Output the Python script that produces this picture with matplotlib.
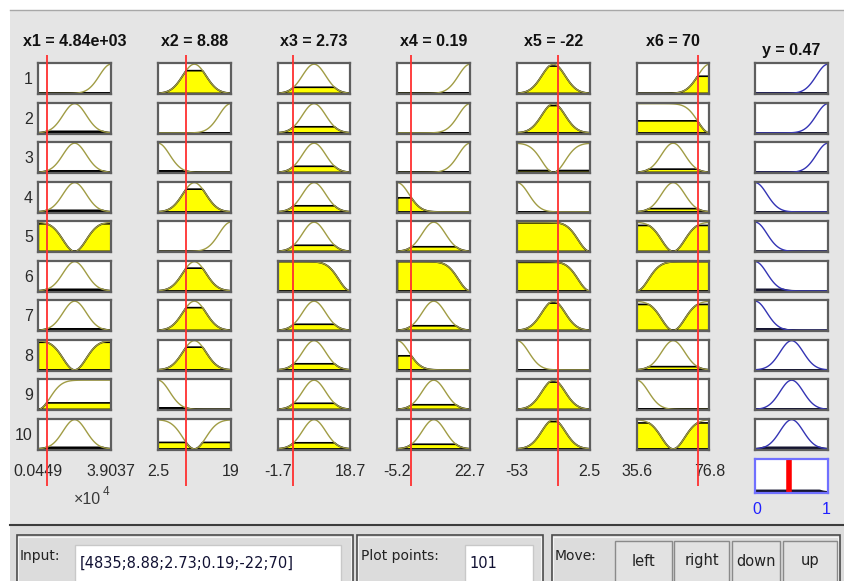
import matplotlib
matplotlib.use("Agg")
import matplotlib.pyplot as plt
import numpy as np
from matplotlib.patches import Rectangle

plt.rcParams["font.family"] = ["Liberation Sans", "DejaVu Sans"]

W, H = 845, 581

# inputs of the fuzzy system
in_titles = ["x1 = 4.84e+03", "x2 = 8.88", "x3 = 2.73", "x4 = 0.19", "x5 = -22", "x6 = 70"]
in_lo = [449, 2.5, -1.7, -5.2, -53, 35.6]
in_hi = [39037, 19, 18.7, 22.7, 2.5, 76.8]
in_values = [4835, 8.88, 2.73, 0.19, -22, 70]
lo_labels = ["0.0449", "2.5", "-1.7", "-5.2", "-53", "35.6"]
hi_labels = ["3.9037", "19", "18.7", "22.7", "2.5", "76.8"]

# membership function used by rules 1-10 for each input / output
x1_mfs = ["hi", "mid", "mid", "mid", "not_mid", "mid", "mid", "not_mid", "not_lo", "mid"]
x2_mfs = ["mid", "hi", "lo", "mid", "hi", "mid", "mid", "mid", "lo", "not_mid"]
x3_mfs = ["mid", "mid", "mid", "mid", "mid", "not_hi", "mid", "mid", "mid", "mid"]
x4_mfs = ["hi", "hi", "hi", "lo", "mid", "not_hi", "mid", "lo", "mid", "mid"]
x5_mfs = ["mid", "mid", "not_mid", "lo", "not_hi", "not_hi", "mid", "lo", "mid", "mid"]
x6_mfs = ["hi", "not_hi", "mid", "mid", "not_mid", "not_lo", "not_mid", "mid", "lo", "not_mid"]
y_mfs = ["hi", "hi", "hi", "lo", "lo", "lo", "lo", "mid", "mid", "mid"]
y_value = 0.47
y_title = "y = 0.47"
input_text = "[4835;8.88;2.73;0.19;-22;70]"
plot_points = 101

mf_sigma = 0.16
mf_centers = {"lo": 0.0, "mid": 0.5, "hi": 1.0}

olive = "#a09c44"
yellow = "#ffff00"
blue_line = "#3434b4"
red = "#ff3030"
ui_font = ["DejaVu Sans"]


def mf(name, u):
    neg = name.startswith("not_")
    c = mf_centers[name.replace("not_", "")]
    g = np.exp(-((u - c) ** 2) / (2 * mf_sigma ** 2))
    return 1 - g if neg else g


def rect(x0, y0, w, h):
    return [x0 / W, 1 - (y0 + h) / H, w / W, h / H]


def style_box(ax, edge="#5e5e5e"):
    ax.set_xticks([])
    ax.set_yticks([])
    ax.set_facecolor("white")
    for s in ax.spines.values():
        s.set_color(edge)
        s.set_linewidth(1.6)


fig = plt.figure(figsize=(W / 100, H / 100), dpi=100)
fig.patch.set_facecolor("white")

bg = fig.add_axes([0, 0, 1, 1])
bg.set_xlim(0, W)
bg.set_ylim(H, 0)
bg.axis("off")
bg.add_patch(Rectangle((10, 10), W - 10, 515, facecolor="#e5e5e5", edgecolor="none"))
bg.plot([10, W], [9.5, 9.5], color="#a8a8a8", lw=1.0)
bg.add_patch(Rectangle((10, 525), W - 10, 60, facecolor="#dcdcdc", edgecolor="none"))
bg.plot([10, W], [525, 525], color="#3c3c3c", lw=1.5)

# bottom control panels
for x0, x1 in [(16.7, 352.7), (356.7, 543), (551.7, 840)]:
    bg.add_patch(Rectangle((x0, 535), x1 - x0, 60, facecolor="#dcdcdc",
                           edgecolor="#4a4a4a", lw=1.2))
    bg.add_patch(Rectangle((x0 + 1.5, 536.5), x1 - x0 - 3, 60, facecolor="none",
                           edgecolor="#f4f4f4", lw=0.8))
bg.add_patch(Rectangle((75, 545), 266, 50, facecolor="white", edgecolor="#c8c8c8", lw=1))
bg.add_patch(Rectangle((465, 545), 68, 50, facecolor="white", edgecolor="#c8c8c8", lw=1))
bg.text(20, 556, "Input:", fontsize=10, va="center", ha="left", color="#222222", family=ui_font)
bg.text(80, 563, input_text, fontsize=10.5, va="center", ha="left", color="#111133", family=ui_font)
bg.text(361, 556, "Plot points:", fontsize=10, va="center", ha="left", color="#222222", family=ui_font)
bg.text(469, 563, str(plot_points), fontsize=10.5, va="center", ha="left", color="#111133", family=ui_font)
bg.text(555, 556, "Move:", fontsize=10, va="center", ha="left", color="#222222", family=ui_font)
for label, x0, x1 in [("left", 615, 671.7), ("right", 674, 729), ("down", 731.7, 780), ("up", 782.7, 836.7)]:
    bg.add_patch(Rectangle((x0, 541), x1 - x0, 50, facecolor="#e2e2e2",
                           edgecolor="#8a8a8a", lw=1))
    bg.text((x0 + x1) / 2, 561, label, fontsize=10.5, va="center", ha="center",
            color="#222222", family=ui_font)

box_w, box_h = 72.7, 30.7
row_pitch = 39.5
row_top0 = 63.3
col_left0 = 38.3
col_pitch = 119.7
y_left = 755.3
u = np.linspace(0, 1, plot_points)

in_mfs = [x1_mfs, x2_mfs, x3_mfs, x4_mfs, x5_mfs, x6_mfs]
n_rules = len(y_mfs)
firing = np.ones(n_rules)

for i in range(n_rules):
    bg.text(33, row_top0 + i * row_pitch + box_h / 2 + 1, str(i + 1), fontsize=11.5,
            ha="right", va="center", color="#2a2a2a")

for j, (mfs, lo, hi, val) in enumerate(zip(in_mfs, in_lo, in_hi, in_values)):
    xs = lo + u * (hi - lo)
    uv = (val - lo) / (hi - lo)
    left = col_left0 + j * col_pitch
    for i, name in enumerate(mfs):
        ax = fig.add_axes(rect(left, row_top0 + i * row_pitch, box_w, box_h))
        style_box(ax)
        mu = mf(name, u)
        deg = float(mf(name, uv))
        firing[i] = min(firing[i], deg)
        ax.plot(xs, mu, color=olive, lw=1.0)
        clipped = np.minimum(mu, deg)
        ax.fill(np.r_[xs[0], xs, xs[-1]], np.r_[0, clipped, 0], facecolor=yellow,
                edgecolor="black", lw=1.2)
        ax.set_xlim(lo, hi)
        ax.set_ylim(-0.02, 1.03)
    cx = left + box_w / 2
    bg.text(cx, 42, in_titles[j], fontsize=11.5, fontweight="bold", ha="center",
            va="center", color="#111111")
    bg.text(left, 471, lo_labels[j], fontsize=11.5, ha="center", va="center", color="#2a2a2a")
    bg.text(left + box_w, 471, hi_labels[j], fontsize=11.5, ha="center", va="center",
            color="#2a2a2a")
    # red input line across all rule rows
    ov = fig.add_axes(rect(left, 55, box_w, 431))
    ov.set_xlim(lo, hi)
    ov.set_ylim(0, 1)
    ov.axis("off")
    ov.patch.set_alpha(0)
    ov.axvline(val, color=red, lw=1.3)

bg.text(87, 499, "\u00d710", fontsize=11.5, ha="center", va="center", color="#3a3a3a")
bg.text(103, 492, "4", fontsize=8.5, ha="left", va="center", color="#3a3a3a")

# output column
agg = np.zeros_like(u)
for i, name in enumerate(y_mfs):
    ax = fig.add_axes(rect(y_left, row_top0 + i * row_pitch, box_w, box_h))
    style_box(ax)
    mu = mf(name, u)
    clipped = np.minimum(mu, firing[i])
    agg = np.maximum(agg, clipped)
    ax.plot(u, mu, color=blue_line, lw=1.0)
    ax.fill(np.r_[0, u, 1], np.r_[0, clipped, 0], facecolor="#20207a",
            edgecolor="#151530", lw=1.2)
    ax.set_xlim(0, 1)
    ax.set_ylim(-0.02, 1.03)

bg.text(y_left + box_w / 2, 51, y_title, fontsize=11.5, fontweight="bold", ha="center",
        va="center", color="#111111")

ax = fig.add_axes(rect(y_left, 459, box_w, 34))
style_box(ax, edge="#7070ff")
ax.fill(np.r_[0, u, 1], np.r_[0, agg, 0], facecolor="#20207a", edgecolor="#151530", lw=1.5)
ax.axvline(y_value, color="#ff0000", lw=4)
ax.set_xlim(0, 1)
ax.set_ylim(-0.02, 1.03)
bg.text(y_left + 2, 510, "0", fontsize=11.5, ha="center", va="center", color="#2020ff")
bg.text(y_left + box_w - 2, 510, "1", fontsize=11.5, ha="center", va="center", color="#2020ff")

fig.savefig("out.png", dpi=100)
